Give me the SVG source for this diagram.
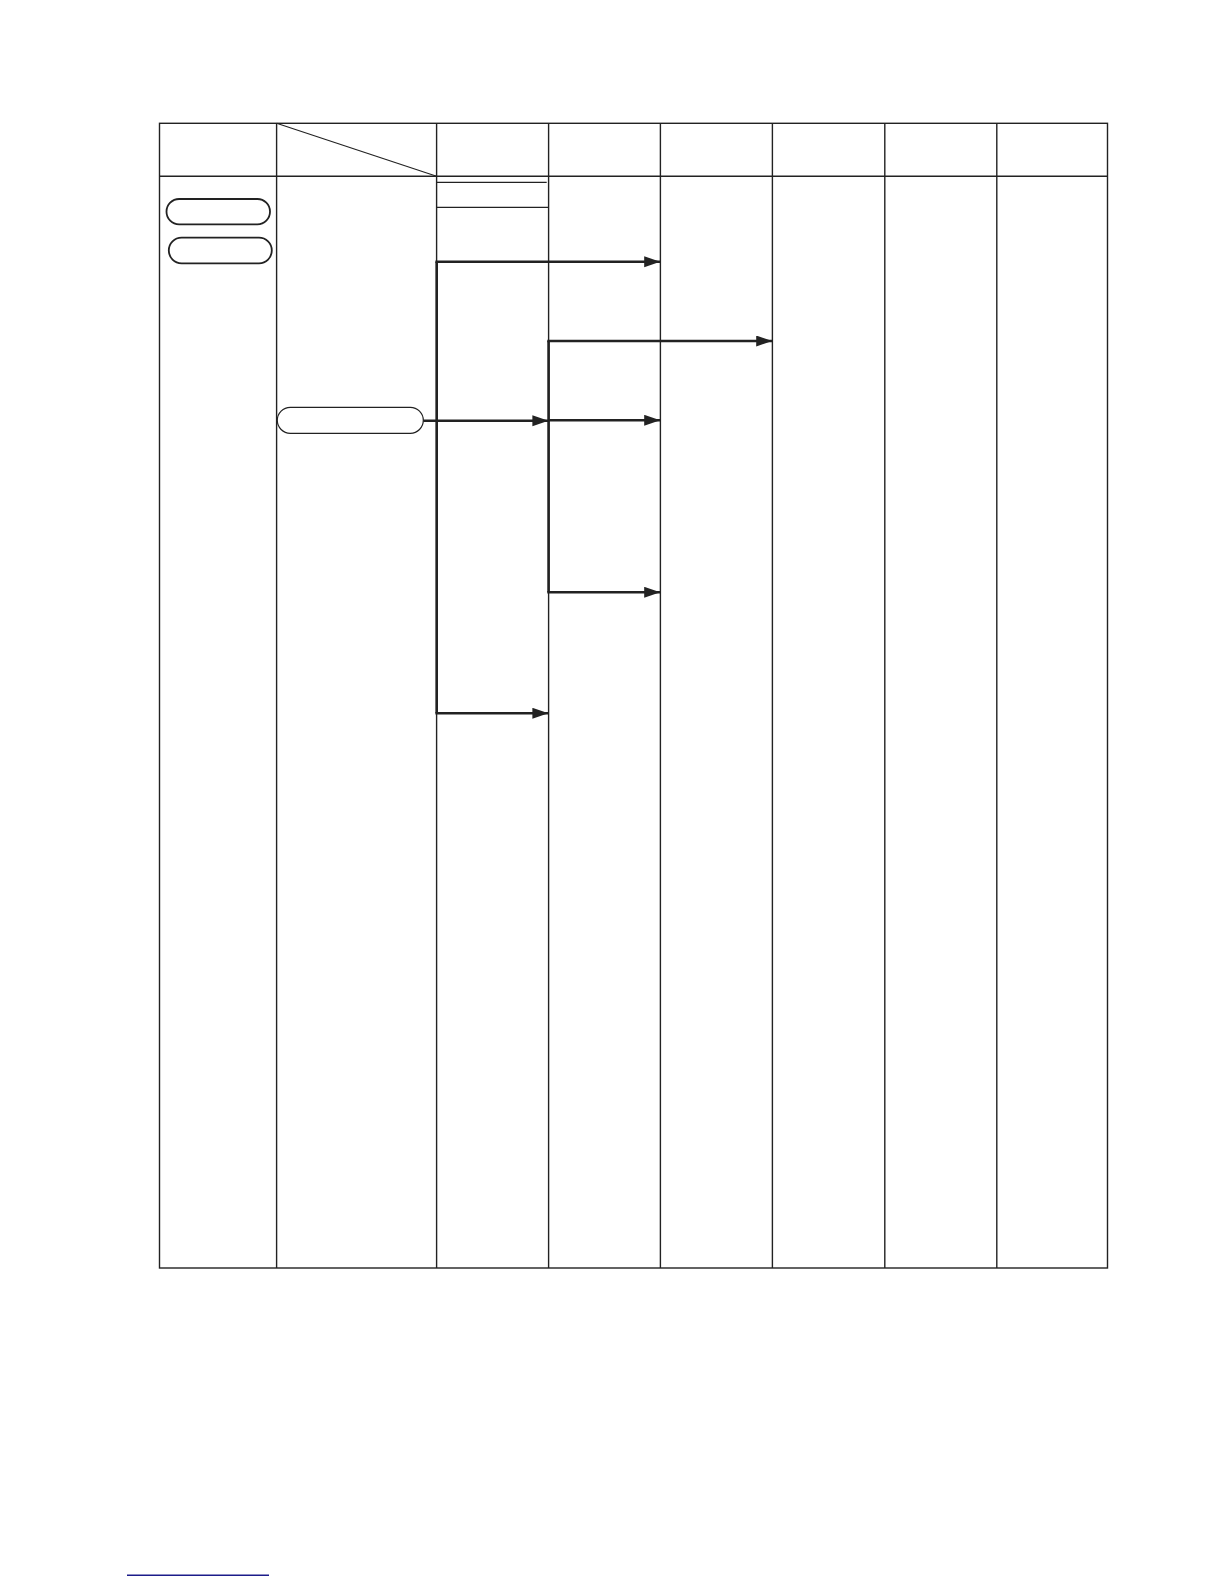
<svg xmlns="http://www.w3.org/2000/svg" width="1224" height="1584" viewBox="0 0 1224 1584">
<style>
.grid{stroke:#222;stroke-width:1.4;fill:none}
.thin{stroke:#222;stroke-width:1.2;fill:none}
.pill{stroke:#222;stroke-width:1.8;fill:#fff}
.pill2{stroke:#222;stroke-width:1.2;fill:#fff}
.conn{stroke:#222;stroke-width:2.6;fill:none}
.arr{stroke:#222;stroke-width:2.6;fill:none;marker-end:url(#ah)}
</style>
<defs>
<marker id="ah" markerUnits="userSpaceOnUse" markerWidth="17" markerHeight="12" refX="16" refY="5.5" orient="auto">
<path d="M0,0 L16,5.5 L0,11 z" fill="#222"/>
</marker>
</defs>
<rect width="1224" height="1584" fill="#fff"/>
<g id="table">
<rect class="grid" x="159.5" y="123.3" width="948" height="1144.7"/>
<line class="grid" x1="159.5" y1="176.3" x2="1107.5" y2="176.3"/>
<line class="grid" x1="276.6" y1="123.3" x2="276.6" y2="1268"/>
<line class="grid" x1="436.6" y1="123.3" x2="436.6" y2="1268"/>
<line class="grid" x1="548.6" y1="123.3" x2="548.6" y2="1268"/>
<line class="grid" x1="660.4" y1="123.3" x2="660.4" y2="1268"/>
<line class="grid" x1="772.4" y1="123.3" x2="772.4" y2="1268"/>
<line class="grid" x1="884.8" y1="123.3" x2="884.8" y2="1268"/>
<line class="grid" x1="996.8" y1="123.3" x2="996.8" y2="1268"/>
<line class="thin" x1="276.6" y1="123.3" x2="436.6" y2="176.3"/>
<line class="thin" x1="436.6" y1="182.3" x2="546.7" y2="182.3"/>
<line class="thin" x1="436.6" y1="207.3" x2="548.6" y2="207.3"/>
</g>
<g id="node-pill-1">
<rect class="pill" x="166.5" y="199" width="103.5" height="25.3" rx="12.6" ry="12.6"/>
</g>
<g id="node-pill-2">
<rect class="pill" x="168.8" y="237.7" width="103" height="25.6" rx="12.8" ry="12.8"/>
</g>
<g id="node-pill-3">
<rect class="pill2" x="277.3" y="407.3" width="146" height="26" rx="13" ry="13"/>
</g>
<g id="connectors">
<path class="conn" d="M436.7,261.7 V713.3"/>
<path class="conn" d="M548.6,341 V592.3"/>
<path class="arr" d="M435.4,261.7 H660.2"/>
<path class="arr" d="M547.3,341 H772.2"/>
<path class="arr" d="M423.3,420.7 H548.4"/>
<path class="arr" d="M548.6,420.3 H660.2"/>
<path class="arr" d="M547.3,592.3 H660.2"/>
<path class="arr" d="M435.4,713.3 H548.4"/>
</g>
<line x1="127" y1="1575.3" x2="269" y2="1575.3" stroke="#1c1c8a" stroke-width="1.6"/>
</svg>
